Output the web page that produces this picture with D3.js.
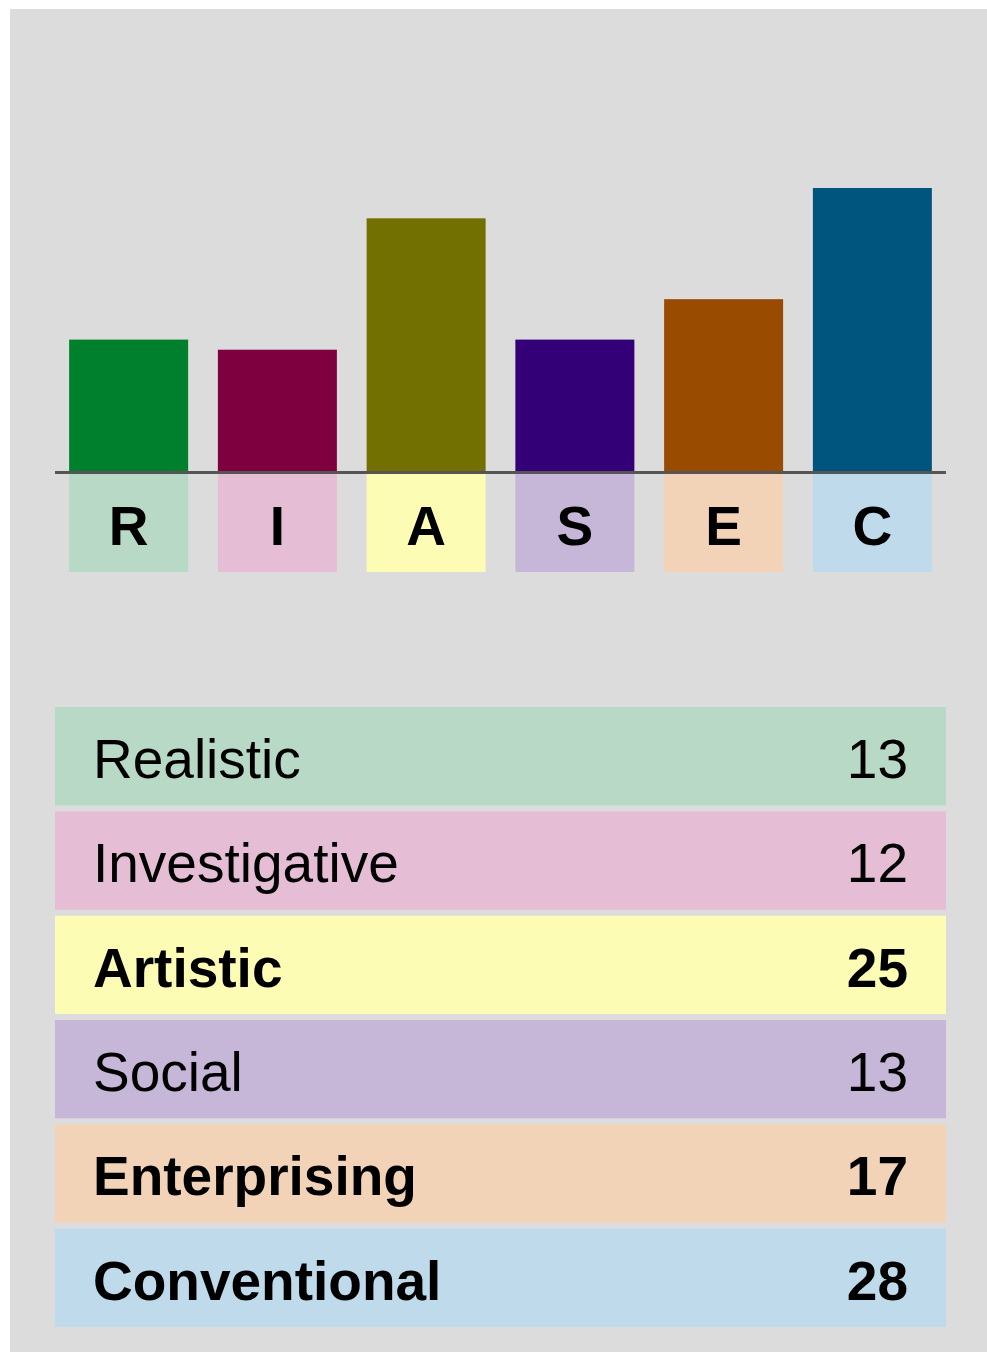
<!DOCTYPE html>
<html>
<head>
<meta charset="utf-8">
<script src="https://cdn.jsdelivr.net/npm/d3@7"></script>
<style>
  html, body { margin: 0; padding: 0; background: #ffffff; }
  svg { display: block; }
</style>
</head>
<body>
<script>
// ---- data ----
const codes = ["R", "I", "A", "S", "E", "C"];
const names = ["Realistic", "Investigative", "Artistic", "Social", "Enterprising", "Conventional"];
const scores = [13, 12, 25, 13, 17, 28];
const boldFlags = [false, false, true, false, true, true];
const darkColors = ["#007f2d", "#7f003f", "#727000", "#330077", "#994c00", "#00557f"];
const lightColors = ["#b8d9c6", "#e5bdd4", "#fcfcb4", "#c6b7d8", "#f2d3b7", "#bfdaeb"];

const W = 987, H = 1352;
const svg = d3.select("body").append("svg").attr("width", W).attr("height", H);

// panel background
svg.append("rect").attr("x", 10).attr("y", 9).attr("width", W - 10).attr("height", H - 9).attr("fill", "#dcdcdc");

const font = "'Liberation Sans', Arial, sans-serif";

// ---- bar chart ----
const x = d3.scaleBand().domain(codes).range([55, 946]).paddingInner(0.2).paddingOuter(0.095);
const lineY = 472.5;
const y = d3.scaleLinear().domain([0, d3.max(scores)]).range([471, 188]);

const g = svg.append("g");
g.selectAll("rect.bar").data(codes).join("rect")
  .attr("class", "bar")
  .attr("x", d => x(d))
  .attr("y", (d, i) => y(scores[i]))
  .attr("width", x.bandwidth())
  .attr("height", (d, i) => lineY - y(scores[i]))
  .attr("fill", (d, i) => darkColors[i]);

g.selectAll("rect.lab").data(codes).join("rect")
  .attr("class", "lab")
  .attr("x", d => x(d))
  .attr("y", lineY)
  .attr("width", x.bandwidth())
  .attr("height", 572 - lineY)
  .attr("fill", (d, i) => lightColors[i]);

g.selectAll("text.code").data(codes).join("text")
  .attr("class", "code")
  .attr("x", d => x(d) + x.bandwidth() / 2)
  .attr("y", 545)
  .attr("text-anchor", "middle")
  .attr("font-family", font)
  .attr("font-weight", "bold")
  .attr("font-size", 55)
  .attr("fill", "#000")
  .text(d => d);

g.append("line")
  .attr("x1", x.range()[0]).attr("x2", x.range()[1])
  .attr("y1", lineY).attr("y2", lineY)
  .attr("stroke", "#555555").attr("stroke-width", 3);

// ---- legend table ----
const rowY = d3.scaleBand().domain(names).range([707, 1327]).paddingInner(0.058).paddingOuter(0);
const rows = svg.append("g").selectAll("g").data(names).join("g")
  .attr("transform", d => `translate(0,${rowY(d)})`);

rows.append("rect")
  .attr("x", 55).attr("y", 0)
  .attr("width", 946 - 55)
  .attr("height", rowY.bandwidth())
  .attr("fill", (d, i) => lightColors[i]);

rows.append("text")
  .attr("x", 93).attr("y", 71)
  .attr("font-family", font)
  .attr("font-size", 55)
  .attr("font-weight", (d, i) => boldFlags[i] ? "bold" : "normal")
  .attr("fill", "#000")
  .text(d => d);

rows.append("text")
  .attr("x", 908).attr("y", 71)
  .attr("text-anchor", "end")
  .attr("font-family", font)
  .attr("font-size", 55)
  .attr("font-weight", (d, i) => boldFlags[i] ? "bold" : "normal")
  .attr("fill", "#000")
  .text((d, i) => scores[i]);
</script>
</body>
</html>
